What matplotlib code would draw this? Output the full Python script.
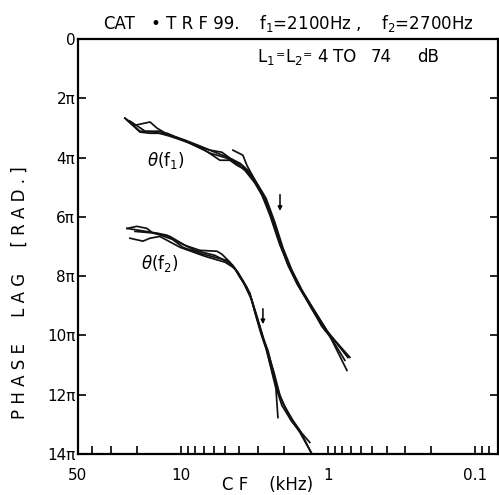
import matplotlib
matplotlib.use("Agg")
import matplotlib.pyplot as plt
from matplotlib.ticker import FixedLocator, NullLocator

# CF (kHz) and phase lag (in units of pi)
f1_cf = [
    [24.0, 18.95, 16.2, 12.4, 9.67, 7.42, 6.34, 4.86, 4.16, 3.79, 3.29, 2.99, 2.68, 2.37, 2.06, 1.81, 1.55, 1.33, 1.02, 0.732],
    [24.0, 20.5, 16.2, 14.5, 12.4, 9.38, 7.42, 5.87, 4.79, 3.97, 3.39, 2.99, 2.64, 2.30, 2.02, 1.76, 1.50, 1.29, 1.00, 0.744],
    [23.2, 18.95, 15.0, 11.86, 8.67, 6.86, 5.43, 4.50, 3.67, 3.14, 2.81, 2.48, 2.12, 1.81, 1.55, 1.33, 1.05, 0.898, 0.710],
    [4.43, 3.79, 3.56, 3.19, 2.81, 2.48, 2.16, 1.87, 1.60, 1.35, 1.10, 0.912, 0.768],
    [22.16, 17.5, 13.87, 10.96, 8.02, 6.34, 5.26, 4.64, 3.79, 3.29, 2.90, 2.56, 2.22, 1.90, 1.63, 1.35, 1.10, 0.926, 0.732],
]
f1_phase = [
    [2.67, 3.14, 3.18, 3.18, 3.41, 3.68, 3.85, 4.02, 4.26, 4.36, 4.66, 5.00, 5.44, 6.11, 7.03, 7.70, 8.38, 8.92, 9.83, 10.74],
    [2.67, 2.91, 2.80, 3.01, 3.21, 3.41, 3.61, 3.82, 3.99, 4.19, 4.49, 4.93, 5.37, 6.18, 7.06, 7.80, 8.48, 9.02, 9.90, 11.18],
    [2.74, 3.11, 3.14, 3.28, 3.51, 3.75, 4.09, 4.09, 4.43, 4.86, 5.27, 5.95, 6.96, 7.74, 8.41, 8.99, 9.83, 10.17, 10.74],
    [3.75, 3.92, 4.26, 4.70, 5.17, 5.78, 6.79, 7.64, 8.31, 8.89, 9.66, 10.24, 10.84],
    [2.77, 3.11, 3.11, 3.31, 3.58, 3.75, 3.82, 4.02, 4.29, 4.63, 5.10, 5.68, 6.62, 7.53, 8.24, 8.92, 9.70, 10.10, 10.74],
]

f2_cf = [
    [23.2, 14.5, 12.4, 9.67, 7.42, 4.86, 4.43, 3.97, 3.56, 3.29, 3.04, 2.77, 2.56, 2.37, 2.19, 2.02, 1.73, 1.55, 1.29],
    [23.2, 19.9, 17.0, 15.5, 11.86, 9.38, 7.42, 5.68, 5.26, 4.64, 4.09, 3.67, 3.34, 3.09, 2.81, 2.60, 2.41, 2.22, 2.06, 1.76, 1.50, 1.33],
    [22.2, 18.1, 16.2, 13.9, 10.1, 6.86, 5.01, 4.29, 3.79, 3.39, 3.14, 2.86, 2.64, 2.44, 2.26, 2.19],
    [20.5, 15.0, 10.96, 8.02, 5.87, 4.79, 4.22, 3.73, 3.34, 3.04, 2.77, 2.56, 2.33, 2.12, 1.81, 1.55, 1.29],
]
f2_phase = [
    [6.39, 6.55, 6.62, 7.03, 7.23, 7.47, 7.64, 8.04, 8.38, 8.82, 9.39, 10.07, 10.51, 11.18, 11.86, 12.30, 12.87, 13.21, 13.99],
    [6.39, 6.32, 6.39, 6.55, 6.66, 6.96, 7.13, 7.16, 7.26, 7.53, 7.87, 8.31, 8.75, 9.32, 10.0, 10.51, 11.18, 11.86, 12.36, 12.91, 13.31, 13.61],
    [6.72, 6.82, 6.72, 6.66, 7.03, 7.33, 7.53, 7.74, 8.14, 8.58, 9.22, 9.93, 10.44, 11.11, 11.79, 12.77],
    [6.49, 6.55, 6.79, 7.13, 7.30, 7.53, 7.80, 8.24, 8.72, 9.36, 10.03, 10.57, 11.25, 12.03, 12.80, 13.28, 13.99],
]

# arrows marking f1 and f2 (cf, phase top, phase bottom)
arrow_f1 = [2.12, 5.25, 5.80]
arrow_f2 = [2.77, 9.10, 9.62]

x_ticks = [50, 10, 1, 0.1]
x_labels = ["50", "10", "1", "0.1"]
y_ticks = [0, 2, 4, 6, 8, 10, 12, 14]
y_labels = ["0", "2π", "4π", "6π", "8π", "10π", "12π", "14π"]

fig = plt.figure(figsize=(4.99, 4.95), dpi=100)
ax = fig.add_axes([78 / 499, 1 - 454 / 495, 420 / 499, 415 / 495])

for xs, ys in zip(f1_cf, f1_phase):
    ax.plot(xs, ys, color="#111111", lw=1.25)
for xs, ys in zip(f2_cf, f2_phase):
    ax.plot(xs, ys, color="#111111", lw=1.25)

for a in (arrow_f1, arrow_f2):
    ax.annotate("", xy=(a[0], a[2]), xytext=(a[0], a[1]),
                arrowprops=dict(arrowstyle="-|>", color="black", lw=1.1,
                                mutation_scale=6, shrinkA=0, shrinkB=0))

ax.text(12.6, 4.09, r"$\theta$(f$_1$)", ha="center", va="center", fontsize=12)
ax.text(13.87, 7.57, r"$\theta$(f$_2$)", ha="center", va="center", fontsize=12)

ax.set_xscale("log")
ax.set_xlim(50, 0.07)
ax.set_ylim(14, 0)

ax.xaxis.set_major_locator(FixedLocator(x_ticks))
ax.set_xticklabels(x_labels)
ax.xaxis.set_minor_locator(FixedLocator(
    [m * d for d in (0.01, 0.1, 1, 10) for m in range(2, 10) if 0.07 <= m * d <= 50]))
ax.set_yticks(y_ticks)
ax.set_yticklabels(y_labels)
ax.yaxis.set_minor_locator(NullLocator())

ax.tick_params(axis="x", which="both", direction="in", length=6, width=1.2,
               top=False, labelsize=11, pad=10)
ax.tick_params(axis="y", which="both", direction="in", length=6, width=1.2,
               right=True, labelsize=11, pad=2)
for s in ax.spines.values():
    s.set_linewidth(1.6)

# header text, placed piece by piece to follow the wide lettering
y_title = 1 - 29 / 495
fig.text(103 / 499, y_title, "CAT", fontsize=12, va="baseline")
fig.text(151 / 499, y_title, "• T R F 99.", fontsize=12, va="baseline")
fig.text(259 / 499, y_title, "f$_1$=2100Hz ,", fontsize=12, va="baseline")
fig.text(381 / 499, y_title, "f$_2$=2700Hz", fontsize=12, va="baseline")

y_lev = 1 - 62 / 495
fig.text(257 / 499, y_lev, "L$_1$", fontsize=12, va="baseline")
fig.text(276 / 499, 1 - 58 / 495, "=", fontsize=8, va="baseline")
fig.text(285 / 499, y_lev, "L$_2$", fontsize=12, va="baseline")
fig.text(303 / 499, 1 - 58 / 495, "=", fontsize=8, va="baseline")
fig.text(317 / 499, y_lev, "4", fontsize=12, va="baseline")
fig.text(333 / 499, y_lev, "TO", fontsize=12, va="baseline")
fig.text(371 / 499, y_lev, "74", fontsize=12, va="baseline")
fig.text(417 / 499, y_lev, "dB", fontsize=12, va="baseline")

fig.text(20 / 499, 1 - 293 / 495, "P H A S E     L A G     [ R A D . ]", rotation=90,
         ha="center", va="center", fontsize=12)
fig.text(268 / 499, 1 - 485 / 495, "C F    (kHz)", ha="center", va="center", fontsize=12)

fig.savefig("out.png", dpi=100)
